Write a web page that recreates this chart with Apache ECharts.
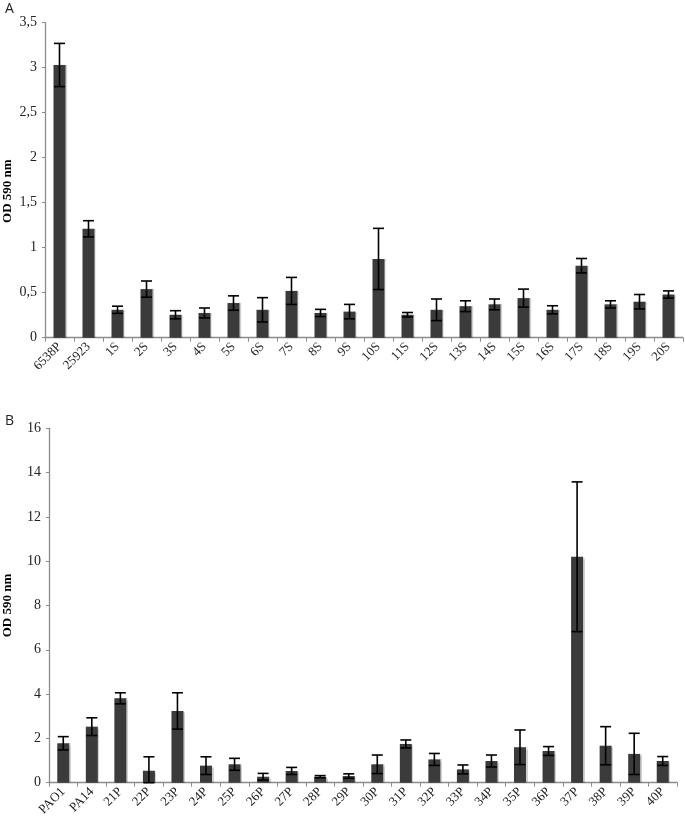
<!DOCTYPE html>
<html>
<head>
<meta charset="utf-8">
<script src="https://cdn.jsdelivr.net/npm/echarts@6/dist/echarts.min.js"></script>
<style>
html,body{margin:0;padding:0;background:#fff;}
#chart{width:685px;height:824px;}
</style>
</head>
<body>
<div id="chart"></div>
<script>
// Panel A
const catsA = ['6538P','25923','1S','2S','3S','4S','5S','6S','7S','8S','9S','10S','11S','12S','13S','14S','15S','16S','17S','18S','19S','20S'];
const valsA = [3.03,1.21,0.31,0.54,0.255,0.275,0.385,0.31,0.52,0.275,0.29,0.875,0.255,0.31,0.35,0.37,0.44,0.31,0.80,0.37,0.40,0.48];
const errA  = [0.24,0.09,0.04,0.09,0.045,0.055,0.08,0.135,0.15,0.04,0.08,0.34,0.025,0.12,0.06,0.06,0.10,0.045,0.08,0.04,0.08,0.04];
// Panel B
const catsB = ['PAO1','PA14','21P','22P','23P','24P','25P','26P','27P','28P','29P','30P','31P','32P','33P','34P','35P','36P','37P','38P','39P','40P'];
const valsB = [1.78,2.53,3.81,0.54,3.24,0.77,0.83,0.27,0.53,0.27,0.30,0.83,1.75,1.05,0.60,0.98,1.60,1.43,10.2,1.67,1.30,0.98];
const errB  = [0.30,0.40,0.25,0.63,0.82,0.40,0.27,0.15,0.16,0.05,0.10,0.42,0.18,0.27,0.20,0.27,0.78,0.20,3.38,0.86,0.93,0.20];
const yTicksA = {min:0, max:3.5, interval:0.5};
const yTicksB = {min:0, max:16, interval:2};

const serif = '"Liberation Serif", "DejaVu Serif", serif';
const axisGray = '#8c8c8c';

function errData(vals, errs){
  return vals.map((v,i)=>[i, Math.max(0, v-errs[i]), v+errs[i]]);
}
function errRender(params, api){
  const x = api.value(0);
  const lo = api.coord([x, api.value(1)]);
  const hi = api.coord([x, api.value(2)]);
  const cap = 5.5;
  const st = {stroke:'#000', lineWidth:1.6};
  return {type:'group', children:[
    {type:'line', shape:{x1:lo[0], y1:lo[1], x2:hi[0], y2:hi[1]}, style:st},
    {type:'line', shape:{x1:hi[0]-cap, y1:hi[1], x2:hi[0]+cap, y2:hi[1]}, style:st},
    {type:'line', shape:{x1:lo[0]-cap, y1:lo[1], x2:lo[0]+cap, y2:lo[1]}, style:st}
  ]};
}
function xAx(cats, gi){
  return {type:'category', gridIndex:gi, data:cats,
    axisLine:{lineStyle:{color:axisGray, width:1.3}},
    axisTick:{show:true, length:4, lineStyle:{color:axisGray}},
    axisLabel:{rotate:45, interval:0, fontFamily:serif, fontSize:13, color:'#222', margin:7}};
}
function yAx(t, gi, gap, pad){
  return {type:'value', gridIndex:gi, min:t.min, max:t.max, interval:t.interval,
    name:'OD 590 nm', nameLocation:'middle', nameGap:gap, nameRotate:90, nameMoveOverlap:false,
    nameTextStyle:{fontFamily:serif, fontWeight:'bold', fontSize:13, color:'#000', padding:pad},
    splitLine:{show:false},
    axisLine:{show:true, lineStyle:{color:axisGray, width:1.3}},
    axisTick:{show:true, length:3, lineStyle:{color:axisGray}},
    axisLabel:{fontFamily:serif, fontSize:14, color:'#222', margin:8,
      formatter:v=>String(v).replace('.',',')}};
}
const barStyle = {color:'#3b3b3b', shadowColor:'rgba(0,0,0,0.18)', shadowBlur:1, shadowOffsetX:1.5, shadowOffsetY:0};

const option = {
  animation:false,
  backgroundColor:'#fff',
  title:[
    {text:'A', left:0, top:-3, textStyle:{fontFamily:'"Open Sans", sans-serif', fontWeight:'normal', fontSize:14, color:'#222'}},
    {text:'B', left:0, top:409, textStyle:{fontFamily:'"Open Sans", sans-serif', fontWeight:'normal', fontSize:14, color:'#222'}}
  ],
  grid:[
    {left:45, right:2, top:22.7, bottom:486.3, outerBoundsMode:'none', containLabel:false},
    {left:49, right:8, top:428.3, bottom:41.3, outerBoundsMode:'none', containLabel:false}
  ],
  xAxis:[xAx(catsA,0), xAx(catsB,1)],
  yAxis:[yAx(yTicksA,0,31,[0,22,0,0]), yAx(yTicksB,1,35,0)],
  series:[
    {type:'bar', xAxisIndex:0, yAxisIndex:0, data:valsA, barWidth:12, itemStyle:barStyle},
    {type:'custom', xAxisIndex:0, yAxisIndex:0, data:errData(valsA,errA), renderItem:errRender, z:5},
    {type:'bar', xAxisIndex:1, yAxisIndex:1, data:valsB, barWidth:12, itemStyle:barStyle},
    {type:'custom', xAxisIndex:1, yAxisIndex:1, data:errData(valsB,errB), renderItem:errRender, z:5}
  ]
};
const chart = echarts.init(document.getElementById('chart'), null, {renderer:'canvas'});
chart.setOption(option);
</script>
</body>
</html>
